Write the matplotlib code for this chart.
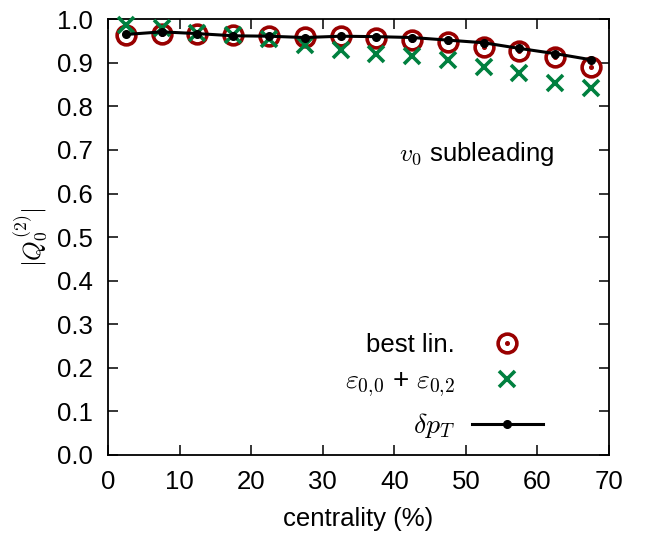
import numpy as np
import matplotlib.pyplot as plt
from matplotlib.legend_handler import HandlerTuple

plt.rcParams["font.family"] = ["Liberation Sans", "DejaVu Sans"]
plt.rcParams["mathtext.fontset"] = "cm"

# centrality bins (%)
centrality = [2.5, 7.5, 12.5, 17.5, 22.5, 27.5, 32.5, 37.5, 42.5, 47.5, 52.5, 57.5, 62.5, 67.5]

best_lin = [0.964, 0.967, 0.967, 0.964, 0.961, 0.959, 0.961, 0.958, 0.953, 0.948, 0.936, 0.927, 0.914, 0.891]
eps_sum = [0.986, 0.980, 0.968, 0.963, 0.955, 0.940, 0.930, 0.921, 0.915, 0.906, 0.891, 0.877, 0.853, 0.842]
dpt = [0.965, 0.971, 0.967, 0.962, 0.961, 0.958, 0.961, 0.960, 0.958, 0.952, 0.946, 0.933, 0.921, 0.907]

red = "#990000"
green = "#00803f"

fig = plt.figure(figsize=(6.48, 5.34), dpi=100)
ax = fig.add_axes([0.1667, 0.148, 0.773, 0.816])

fs = 18.5

h_circ, = ax.plot(centrality, best_lin, ls="none", marker="o", ms=13.5,
                  mfc="none", mec=red, mew=2.6, clip_on=False, zorder=3)
h_dot, = ax.plot(centrality, best_lin, ls="none", marker="o", ms=2.6,
                 mfc=red, mec=red, clip_on=False, zorder=3)
h_x, = ax.plot(centrality, eps_sum, ls="none", marker="x", ms=12,
               mec=green, mew=2.6, clip_on=False, zorder=4)
h_line, = ax.plot(centrality, dpt, color="black", lw=2.2, marker="o", ms=5.5,
                  clip_on=False, zorder=5)

ax.set_xlim(0, 70)
ax.set_ylim(0, 1.0)
ax.set_xticks(np.arange(0, 71, 10))
ax.set_yticks(np.arange(0, 1.01, 0.1))
ax.set_yticklabels([f"{v:.1f}" for v in np.arange(0, 1.01, 0.1)])
ax.tick_params(direction="in", top=True, right=True, length=7, width=1.1,
               labelsize=fs, pad=11)
for s in ax.spines.values():
    s.set_linewidth(1.3)

ax.set_xlabel("centrality (%)", fontsize=fs, labelpad=9)
ax.set_ylabel(r"$|Q_0^{(2)}|$", fontsize=18, labelpad=5)

ax.text(62.4, 0.69, r"$v_0$ subleading", fontsize=fs, ha="right", va="center")

leg = ax.legend([(h_circ, h_dot), h_x, h_line],
                ["best lin.", r"$\varepsilon_{0{,}0}$ + $\varepsilon_{0{,}2}$", r"$\delta p_T$"],
                handler_map={tuple: HandlerTuple(ndivide=1)},
                loc="lower right", bbox_to_anchor=(0.899, 0.0), markerfirst=False,
                frameon=False, fontsize=fs, handlelength=2.76, handletextpad=0.66,
                labelspacing=0.45, borderaxespad=0.2)
for t in leg.get_texts()[1:]:
    t.set_fontsize(20)

plt.savefig("out.png", dpi=100)
